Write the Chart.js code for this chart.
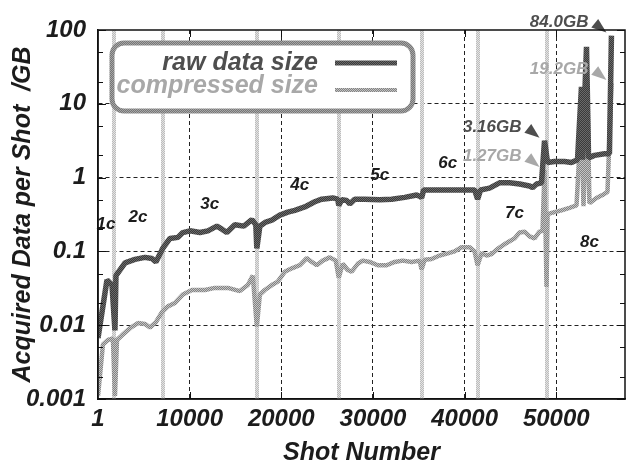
<!DOCTYPE html>
<html><head><meta charset="utf-8">
<script src="https://cdn.jsdelivr.net/npm/chart.js@4.4.1/dist/chart.umd.min.js"></script>
<style>html,body{margin:0;padding:0;background:#fff;overflow:hidden}</style>
</head><body>
<canvas id="c" width="626" height="463"></canvas>
<script>
// ---- data ----
const rawShots = [1,980,1530,1850,1960,2950,4030,5120,5890,6320,7085,7850,8720,9260,10030,11120,11990,12970,13520,14060,14930,15910,16790,17220,17330,17660,18310,18970,19840,20710,21470,22560,23650,24410,25610,26160,26270,26590,27140,27470,28010,29100,30740,32040,33460,34770,35200,35310,35530,37280,39460,41090,41420,41740,42720,43810,44910,46000,47080,47410,47850,48390,48720,49050,49800,50900,51660,52320,52750,52860,53300,53520,54170,55260,55800,56020];
const rawGB    = [0.0067,0.041,0.035,0.0085,0.047,0.070,0.078,0.083,0.080,0.072,0.111,0.150,0.155,0.18,0.19,0.18,0.19,0.22,0.20,0.18,0.23,0.22,0.27,0.23,0.11,0.22,0.25,0.265,0.31,0.34,0.36,0.40,0.47,0.51,0.53,0.51,0.42,0.50,0.49,0.44,0.51,0.51,0.50,0.51,0.54,0.58,0.55,0.53,0.68,0.68,0.68,0.68,0.51,0.68,0.72,0.85,0.85,0.82,0.77,0.73,0.82,0.85,3.16,1.6,1.65,1.65,1.6,1.75,17,1.75,59,1.85,2.0,2.1,2.1,84.0];
const compShots = [1,540,1090,1630,1850,2070,2620,3490,4360,5120,5670,6320,6980,7630,8390,9260,10250,11660,12750,14170,15480,16350,16890,17330,17660,18200,18970,19620,20380,21150,22020,22780,23320,23870,24520,25290,25940,26270,26700,27250,27680,28340,28880,29650,30520,31500,32370,33240,34220,35090,35310,35640,36400,37280,38150,38910,39670,40550,41090,41420,41850,42400,42940,43600,44580,45450,46000,46540,47090,47630,48170,48500,48720,48940,49050,49800,50570,51440,52210,52750,52970,53410,53620,54390,55040,55590,56020];
const compGB    = [0.0011,0.0055,0.0063,0.0066,0.0011,0.0063,0.0073,0.0091,0.0107,0.0104,0.0093,0.0110,0.0150,0.018,0.020,0.026,0.030,0.030,0.032,0.032,0.029,0.035,0.047,0.0096,0.026,0.030,0.035,0.039,0.053,0.059,0.065,0.081,0.072,0.065,0.075,0.083,0.075,0.044,0.068,0.056,0.053,0.068,0.075,0.072,0.065,0.065,0.072,0.075,0.072,0.075,0.057,0.077,0.079,0.088,0.094,0.10,0.114,0.114,0.10,0.065,0.094,0.088,0.092,0.108,0.13,0.15,0.18,0.185,0.16,0.15,0.185,0.19,1.27,0.033,0.32,0.34,0.36,0.39,0.42,7.1,0.41,11.2,0.45,0.53,0.58,0.64,19.2];

const campaignEdges = [1745,7085,17330,26270,35310,41420,48940];
const campaignNames = ['1c','2c','3c','4c','5c','6c','7c','8c'];
const campaignLabelShots = [870,4360,12200,22000,30740,38150,45450,53620];
const campaignLabelGB    = [0.235,0.29,0.43,0.79,1.08,1.58,0.33,0.134];

const peakTexts = ['84.0GB','19.2GB','3.16GB','1.27GB'];
const peakShots = [56020,56020,48720,48720];
const peakGB    = [84.0,19.2,3.16,1.27];
const peakSeries = ['raw','comp','raw','comp'];

const xTicks = [1,10000,20000,30000,40000,50000];
const xTickLabels = ['1','10000','20000','30000','40000','50000'];
const yTicks = [0.001,0.01,0.1,1,10,100];
const yTickLabels = ['0.001','0.01','0.1','1','10','100'];
const yMinor = [0.002,0.005,0.02,0.05,0.2,0.5,2,5,20,50];

const seriesNames = ['raw data size','compressed size'];

// ---- styling ----
const FAM = '"Liberation Sans", Arial, Helvetica, sans-serif';
const canvas = document.getElementById('c');
const ctx0 = canvas.getContext('2d');
function checker(a, b) {
  const c = document.createElement('canvas'); c.width = 2; c.height = 2;
  const g = c.getContext('2d');
  g.fillStyle = a; g.fillRect(0,0,2,2);
  g.fillStyle = b; g.fillRect(0,0,1,1); g.fillRect(1,1,1,1);
  return ctx0.createPattern(c, 'repeat');
}
const rawPat  = checker('#3a3a3a', '#6a6a6a');
const compPat = checker('#828282', '#c4c4c4');
const sepPat  = checker('#bcbcbc', '#e4e4e4');
const boxPat  = checker('#767676', '#a6a6a6');
const DARK = '#4e4e4e', LIGHT = '#a8a8a8';

const rawData  = rawShots.map((s,i) => ({x:s, y:rawGB[i]}));
const compData = compShots.map((s,i) => ({x:s, y:compGB[i]}));

const decor = {
  id: 'decor',
  beforeDatasetsDraw(chart) {
    const {ctx, chartArea: a, scales: {x}} = chart;
    ctx.save();
    ctx.fillStyle = sepPat;
    campaignEdges.forEach(s => {
      const px = x.getPixelForValue(s);
      ctx.fillRect(Math.round(px) - 2, a.top, 4, a.bottom - a.top);
    });
    ctx.restore();
  },
  afterDatasetsDraw(chart) {
    const {ctx, chartArea: a, scales: {x, y}} = chart;
    ctx.save();
    // campaign labels
    ctx.font = `italic bold 17px ${FAM}`;
    ctx.fillStyle = '#1c1c1c';
    ctx.textAlign = 'center'; ctx.textBaseline = 'middle';
    campaignNames.forEach((t,i) => {
      ctx.fillText(t, x.getPixelForValue(campaignLabelShots[i]), y.getPixelForValue(campaignLabelGB[i]));
    });
    // peak annotations
    peakTexts.forEach((t,i) => {
      const col = peakSeries[i] === 'raw' ? DARK : LIGHT;
      const tx = x.getPixelForValue(peakShots[i]) - 5;
      const ty = y.getPixelForValue(peakGB[i]) - 3;
      let dx = 1, dy = 0.8; const L = Math.hypot(dx,dy); dx/=L; dy/=L;
      const bx = tx - dx*15, by = ty - dy*15;
      ctx.fillStyle = col;
      ctx.beginPath();
      ctx.moveTo(tx, ty);
      ctx.lineTo(bx - dy*5.5, by + dx*5.5);
      ctx.lineTo(bx + dy*5.5, by - dx*5.5);
      ctx.closePath(); ctx.fill();
      ctx.font = `italic bold 17px ${FAM}`;
      ctx.textAlign = 'right'; ctx.textBaseline = 'alphabetic';
      ctx.fillText(t, tx - 18, ty - 6);
    });
    // legend box
    const lx = a.left + 14, ly = a.top + 13, lw = 301, lh = 68, r = 12;
    ctx.beginPath();
    ctx.roundRect(lx, ly, lw, lh, r);
    ctx.fillStyle = '#fff'; ctx.fill();
    ctx.lineWidth = 5; ctx.strokeStyle = boxPat; ctx.stroke();
    ctx.font = `italic bold 25px ${FAM}`;
    ctx.textAlign = 'right'; ctx.textBaseline = 'alphabetic';
    ctx.fillStyle = DARK;
    ctx.fillText(seriesNames[0], lx + 206, ly + 27);
    ctx.fillStyle = LIGHT;
    ctx.fillText(seriesNames[1], lx + 206, ly + 50);
    ctx.lineWidth = 5; ctx.strokeStyle = rawPat;
    ctx.beginPath(); ctx.moveTo(lx + 223, ly + 20); ctx.lineTo(lx + 285, ly + 20); ctx.stroke();
    ctx.lineWidth = 4; ctx.strokeStyle = compPat;
    ctx.beginPath(); ctx.moveTo(lx + 223, ly + 47); ctx.lineTo(lx + 285, ly + 47); ctx.stroke();
    ctx.restore();
  },
  afterDraw(chart) {
    const {ctx, chartArea: a, scales: {x, y}} = chart;
    ctx.save();
    ctx.strokeStyle = '#111'; ctx.lineWidth = 1.5;
    ctx.strokeRect(a.left, a.top, a.right - a.left, a.bottom - a.top);
    ctx.lineWidth = 1;
    ctx.beginPath();
    xTicks.forEach(v => {
      if (v <= 1) return;
      const px = Math.round(x.getPixelForValue(v)) + 0.5;
      ctx.moveTo(px, a.bottom); ctx.lineTo(px, a.bottom - 7);
      ctx.moveTo(px, a.top); ctx.lineTo(px, a.top + 7);
    });
    yTicks.forEach(v => {
      const py = Math.round(y.getPixelForValue(v)) + 0.5;
      ctx.moveTo(a.left, py); ctx.lineTo(a.left + 8, py);
      ctx.moveTo(a.right, py); ctx.lineTo(a.right - 8, py);
    });
    yMinor.forEach(v => {
      const py = Math.round(y.getPixelForValue(v)) + 0.5;
      ctx.moveTo(a.left, py); ctx.lineTo(a.left + 5, py);
      ctx.moveTo(a.right, py); ctx.lineTo(a.right - 5, py);
    });
    ctx.stroke();
    ctx.restore();
  }
};

const tickFont = {family: FAM, size: 24, weight: 'bold', style: 'italic'};
const titleFont = {family: FAM, size: 25, weight: 'bold', style: 'italic'};

new Chart(canvas, {
  type: 'line',
  data: {
    datasets: [
      {label: seriesNames[0], data: rawData, borderColor: rawPat, borderWidth: 5.5, pointRadius: 0, tension: 0, borderJoinStyle: 'bevel', borderCapStyle: 'butt', fill: false},
      {label: seriesNames[1], data: compData, borderColor: compPat, borderWidth: 4.5, pointRadius: 0, tension: 0, borderJoinStyle: 'bevel', borderCapStyle: 'butt', fill: false}
    ]
  },
  options: {
    responsive: false,
    devicePixelRatio: 1,
    animation: false,
    events: [],
    layout: {padding: {top: 30, right: 1, left: 0, bottom: 0}},
    plugins: {legend: {display: false}, tooltip: {enabled: false}},
    scales: {
      x: {
        type: 'linear', min: 1, max: 57500,
        afterBuildTicks: s => { s.ticks = xTicks.map(v => ({value: v})); },
        afterFit: s => { s.height = 64; },
        ticks: {font: tickFont, color: '#1c1c1c', padding: 6, maxRotation: 0, autoSkip: false,
                callback: (v, i) => xTickLabels[i]},
        grid: {drawTicks: false, lineWidth: 1, color: c => (c.tick && c.tick.value <= 1) ? 'rgba(0,0,0,0)' : '#222'},
        border: {display: true, color: '#111', width: 1.5, dash: [4, 3]},
        title: {display: true, text: 'Shot Number', font: titleFont, color: '#1c1c1c', padding: {top: 0, bottom: -5}}
      },
      y: {
        type: 'logarithmic', min: 0.001, max: 100,
        afterBuildTicks: s => { s.ticks = yTicks.map(v => ({value: v})); },
        afterFit: s => { s.width = 98; },
        ticks: {font: tickFont, color: '#1c1c1c', padding: 12, autoSkip: false,
                callback: (v, i) => yTickLabels[i]},
        grid: {drawTicks: false, lineWidth: 1, color: c => (c.tick && (c.tick.value <= 0.001 || c.tick.value >= 100)) ? 'rgba(0,0,0,0)' : '#222'},
        border: {display: true, color: '#111', width: 1.5, dash: [4, 3]},
        title: {display: true, text: 'Acquired Data per Shot  /GB', font: titleFont, color: '#1c1c1c', padding: {top: 8, bottom: 0}}
      }
    }
  },
  plugins: [decor]
});
</script>
</body></html>
